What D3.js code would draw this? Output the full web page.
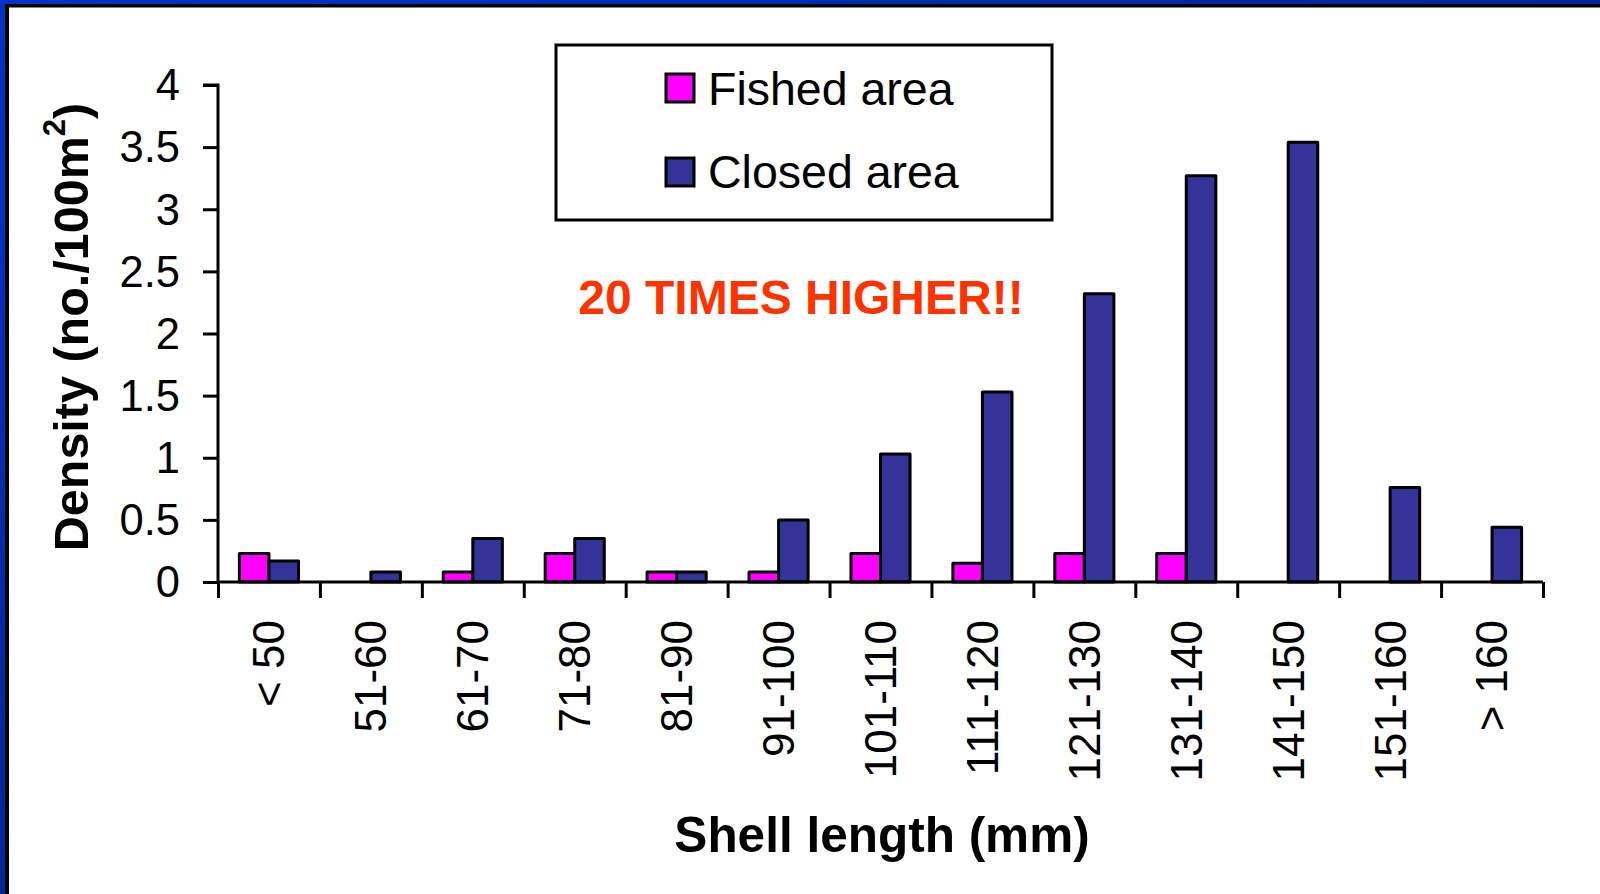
<!DOCTYPE html>
<html>
<head>
<meta charset="utf-8">
<script src="https://cdn.jsdelivr.net/npm/d3@7"></script>
<style>
  html, body { margin: 0; padding: 0; background: #fff; }
  svg { display: block; font-family: "Liberation Sans", Arial, sans-serif; }
</style>
</head>
<body>
<svg id="chart" width="1600" height="894"></svg>
<script>
// Shell length classes and densities (no./100 m²)
const categories = ["< 50", "51-60", "61-70", "71-80", "81-90", "91-100", "101-110",
                    "111-120", "121-130", "131-140", "141-150", "151-160", "> 160"];
const fishedArea = [0.23, 0, 0.08, 0.23, 0.08, 0.08, 0.23, 0.15, 0.23, 0.23, 0, 0, 0];
const closedArea = [0.17, 0.08, 0.35, 0.35, 0.08, 0.5, 1.03, 1.53, 2.32, 3.27, 3.54, 0.76, 0.44];
const seriesNames = ["Fished area", "Closed area"];
const seriesColors = ["#ff00ff", "#333399"];
const yTicks = [0, 0.5, 1, 1.5, 2, 2.5, 3, 3.5, 4];

const svg = d3.select("#chart");
const W = 1600, H = 894;

// Slide frame: blue band with a black rule along the top and left edges
const defs = svg.append("defs");
const grad = defs.append("linearGradient").attr("id", "frameBlue")
  .attr("x1", "0").attr("y1", "0").attr("x2", "1").attr("y2", "1");
grad.append("stop").attr("offset", "0").attr("stop-color", "#0033cc");
grad.append("stop").attr("offset", "1").attr("stop-color", "#001a66");
svg.append("rect").attr("width", W).attr("height", H).attr("fill", "url(#frameBlue)");
svg.append("rect").attr("x", 5).attr("y", 4).attr("width", W).attr("height", H).attr("fill", "#000");
svg.append("rect").attr("x", 9).attr("y", 7.5).attr("width", W).attr("height", H).attr("fill", "#fff");

// Plot area
const plotLeft = 218, plotRight = 1543, plotTop = 85, plotBottom = 582;

const x0 = d3.scaleBand().domain(categories).range([plotLeft, plotRight]).padding(0);
const x1 = d3.scaleBand().domain(seriesNames)
  .range([x0.bandwidth() * 0.21, x0.bandwidth() * 0.79]).padding(0);
const y = d3.scaleLinear().domain([0, 4]).range([plotBottom, plotTop]);

const rows = categories.map((c, i) => ({
  cat: c,
  values: [
    { name: seriesNames[0], v: fishedArea[i], color: seriesColors[0] },
    { name: seriesNames[1], v: closedArea[i], color: seriesColors[1] }
  ]
}));

// Bars
const groups = svg.append("g").selectAll("g").data(rows).join("g")
  .attr("transform", d => `translate(${x0(d.cat)},0)`);
groups.selectAll("rect").data(d => d.values.filter(s => s.v > 0)).join("rect")
  .attr("x", d => x1(d.name))
  .attr("width", x1.bandwidth())
  .attr("y", d => y(d.v))
  .attr("height", d => y(0) - y(d.v))
  .attr("fill", d => d.color)
  .attr("stroke", "#000")
  .attr("stroke-width", 3)
  .attr("stroke-linejoin", "round");

// Y axis
const yAxis = svg.append("g").attr("transform", `translate(${plotLeft},0)`)
  .call(d3.axisLeft(y).tickValues(yTicks).tickSize(15).tickPadding(23)
    .tickFormat(d3.format("")));
yAxis.select(".domain").attr("stroke-width", 3).attr("d", `M-15,${plotTop}H0V${plotBottom}`);
yAxis.selectAll(".tick line").attr("stroke-width", 3);
yAxis.selectAll(".tick text").attr("font-size", 43.5).attr("fill", "#000")
  .attr("font-family", "Liberation Sans, Arial, sans-serif").attr("dy", "0.34em");

// X axis: boundary ticks between classes
const xb = d3.scaleLinear().domain([0, categories.length]).range([plotLeft, plotRight]);
const xTickAxis = svg.append("g").attr("transform", `translate(0,${plotBottom})`)
  .call(d3.axisBottom(xb).tickValues(d3.range(categories.length + 1)).tickSize(16).tickFormat(""));
xTickAxis.select(".domain").attr("stroke-width", 3).attr("d", `M${plotLeft},0H${plotRight}`);
xTickAxis.selectAll(".tick line").attr("stroke-width", 3);

// X axis: class labels, rotated
const xLabAxis = svg.append("g").attr("transform", `translate(0,${plotBottom})`)
  .call(d3.axisBottom(x0).tickSize(0).tickPadding(0));
xLabAxis.select(".domain").remove();
xLabAxis.selectAll(".tick text")
  .attr("font-size", 44).attr("fill", "#000")
  .attr("font-family", "Liberation Sans, Arial, sans-serif")
  .attr("text-anchor", "end")
  .attr("transform", "rotate(-90)")
  .attr("x", -38).attr("y", 0).attr("dy", "0.35em");

// Axis titles
svg.append("text")
  .attr("x", 882).attr("y", 852)
  .attr("text-anchor", "middle")
  .attr("font-size", 49.5).attr("font-weight", "bold")
  .text("Shell length (mm)");

const yTitle = svg.append("text")
  .attr("transform", "translate(88,327) rotate(-90)")
  .attr("text-anchor", "middle")
  .attr("font-size", 48.5).attr("font-weight", "bold");
yTitle.append("tspan").text("Density (no./100m");
yTitle.append("tspan").attr("font-size", 31).attr("dy", -23).text("2");
yTitle.append("tspan").attr("dy", 23).text(")");

// Annotation
svg.append("text")
  .attr("x", 801).attr("y", 314)
  .attr("text-anchor", "middle")
  .attr("font-size", 48).attr("font-weight", "bold")
  .attr("fill", "#ff3300")
  .text("20 TIMES HIGHER!!");

// Legend
const legend = svg.append("g");
legend.append("rect")
  .attr("x", 556).attr("y", 45).attr("width", 496).attr("height", 175)
  .attr("fill", "#fff").attr("stroke", "#000").attr("stroke-width", 3);
const legendRows = [{ name: seriesNames[0], color: seriesColors[0], ty: 74, by: 105 },
                    { name: seriesNames[1], color: seriesColors[1], ty: 158, by: 188 }];
legend.selectAll("rect.sw").data(legendRows).join("rect").attr("class", "sw")
  .attr("x", 666).attr("y", d => d.ty).attr("width", 28).attr("height", 28)
  .attr("fill", d => d.color).attr("stroke", "#000").attr("stroke-width", 3);
legend.selectAll("text").data(legendRows).join("text")
  .attr("x", 708).attr("y", d => d.by)
  .attr("font-size", 46.5).attr("fill", "#000")
  .text(d => d.name);
</script>
</body>
</html>
